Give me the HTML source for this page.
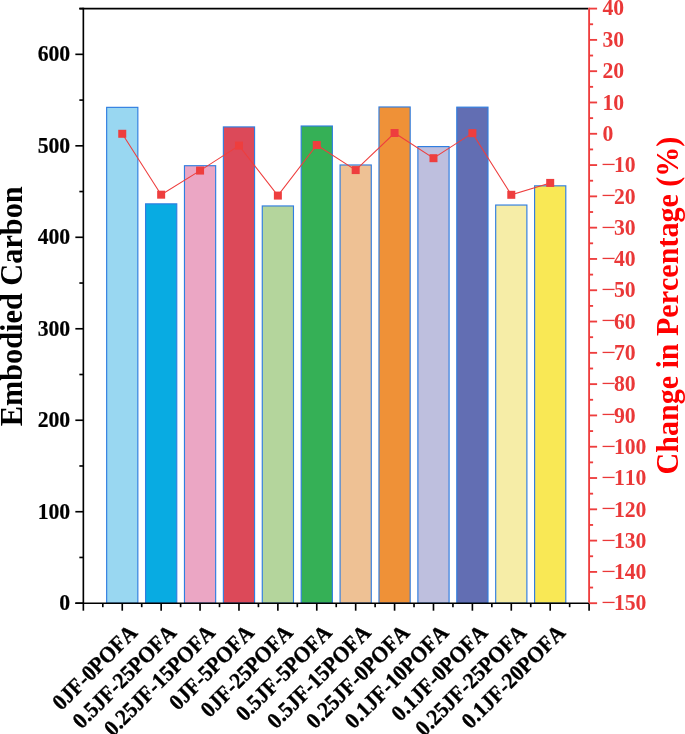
<!DOCTYPE html>
<html><head><meta charset="utf-8"><title>Embodied Carbon</title>
<style>html,body{margin:0;padding:0;background:#fff}svg{display:block}text{font-family:"Liberation Serif","Times New Roman",serif;font-weight:bold;font-kerning:none}</style></head><body>
<svg width="685" height="734" viewBox="0 0 685 734">
<rect width="685" height="734" fill="#fff"/>
<rect x="106.65" y="107.35" width="31.20" height="495.85" fill="#99D7F1" stroke="#2F7DE0" stroke-width="1.15"/>
<rect x="145.56" y="203.85" width="31.20" height="399.35" fill="#08ABE2" stroke="#2F7DE0" stroke-width="1.15"/>
<rect x="184.46" y="165.71" width="31.20" height="437.49" fill="#EBA6C4" stroke="#2F7DE0" stroke-width="1.15"/>
<rect x="223.37" y="126.92" width="31.20" height="476.28" fill="#DC4959" stroke="#2F7DE0" stroke-width="1.15"/>
<rect x="262.27" y="205.96" width="31.20" height="397.24" fill="#B4D59C" stroke="#2F7DE0" stroke-width="1.15"/>
<rect x="301.17" y="126.01" width="31.20" height="477.19" fill="#35B056" stroke="#2F7DE0" stroke-width="1.15"/>
<rect x="340.08" y="164.98" width="31.20" height="438.22" fill="#EEC194" stroke="#2F7DE0" stroke-width="1.15"/>
<rect x="378.98" y="106.98" width="31.20" height="496.22" fill="#EF9137" stroke="#2F7DE0" stroke-width="1.15"/>
<rect x="417.88" y="146.59" width="31.20" height="456.61" fill="#BEBFDE" stroke="#2F7DE0" stroke-width="1.15"/>
<rect x="456.79" y="107.16" width="31.20" height="496.04" fill="#626EB3" stroke="#2F7DE0" stroke-width="1.15"/>
<rect x="495.69" y="205.04" width="31.20" height="398.16" fill="#F6EDA7" stroke="#2F7DE0" stroke-width="1.15"/>
<rect x="534.60" y="185.83" width="31.20" height="417.37" fill="#F9E855" stroke="#2F7DE0" stroke-width="1.15"/>
<polyline points="122.25,133.78 161.16,194.68 200.06,170.58 238.97,145.58 277.87,195.59 316.77,145.05 355.68,170.08 394.58,133.00 433.48,158.19 472.39,133.15 511.29,194.80 550.20,182.91" fill="none" stroke="#EE3E3E" stroke-width="1.05"/>
<rect x="118.25" y="129.78" width="8" height="8" fill="#EE3E3E"/>
<rect x="157.16" y="190.68" width="8" height="8" fill="#EE3E3E"/>
<rect x="196.06" y="166.58" width="8" height="8" fill="#EE3E3E"/>
<rect x="234.97" y="141.58" width="8" height="8" fill="#EE3E3E"/>
<rect x="273.87" y="191.59" width="8" height="8" fill="#EE3E3E"/>
<rect x="312.77" y="141.05" width="8" height="8" fill="#EE3E3E"/>
<rect x="351.68" y="166.08" width="8" height="8" fill="#EE3E3E"/>
<rect x="390.58" y="129.00" width="8" height="8" fill="#EE3E3E"/>
<rect x="429.48" y="154.19" width="8" height="8" fill="#EE3E3E"/>
<rect x="468.39" y="129.15" width="8" height="8" fill="#EE3E3E"/>
<rect x="507.29" y="190.80" width="8" height="8" fill="#EE3E3E"/>
<rect x="546.20" y="178.91" width="8" height="8" fill="#EE3E3E"/>
<g stroke="#000" stroke-width="1.65" fill="none">
<line x1="83.35" y1="7.85" x2="83.35" y2="603.95"/>
<line x1="79.35" y1="8.6" x2="588.35" y2="8.6"/>
<line x1="75.35" y1="603.2" x2="589.85" y2="603.2"/>
<line x1="75.35" y1="603.20" x2="83.35" y2="603.20"/>
<line x1="75.35" y1="511.72" x2="83.35" y2="511.72"/>
<line x1="75.35" y1="420.25" x2="83.35" y2="420.25"/>
<line x1="75.35" y1="328.77" x2="83.35" y2="328.77"/>
<line x1="75.35" y1="237.29" x2="83.35" y2="237.29"/>
<line x1="75.35" y1="145.82" x2="83.35" y2="145.82"/>
<line x1="75.35" y1="54.34" x2="83.35" y2="54.34"/>
<line x1="79.35" y1="557.46" x2="83.35" y2="557.46"/>
<line x1="79.35" y1="465.98" x2="83.35" y2="465.98"/>
<line x1="79.35" y1="374.51" x2="83.35" y2="374.51"/>
<line x1="79.35" y1="283.03" x2="83.35" y2="283.03"/>
<line x1="79.35" y1="191.55" x2="83.35" y2="191.55"/>
<line x1="79.35" y1="100.08" x2="83.35" y2="100.08"/>
<line x1="79.35" y1="8.60" x2="83.35" y2="8.60"/>
<line x1="83.35" y1="603.2" x2="83.35" y2="610.7"/>
<line x1="122.25" y1="603.2" x2="122.25" y2="610.7"/>
<line x1="161.16" y1="603.2" x2="161.16" y2="610.7"/>
<line x1="200.06" y1="603.2" x2="200.06" y2="610.7"/>
<line x1="238.97" y1="603.2" x2="238.97" y2="610.7"/>
<line x1="277.87" y1="603.2" x2="277.87" y2="610.7"/>
<line x1="316.77" y1="603.2" x2="316.77" y2="610.7"/>
<line x1="355.68" y1="603.2" x2="355.68" y2="610.7"/>
<line x1="394.58" y1="603.2" x2="394.58" y2="610.7"/>
<line x1="433.48" y1="603.2" x2="433.48" y2="610.7"/>
<line x1="472.39" y1="603.2" x2="472.39" y2="610.7"/>
<line x1="511.29" y1="603.2" x2="511.29" y2="610.7"/>
<line x1="550.20" y1="603.2" x2="550.20" y2="610.7"/>
<line x1="589.10" y1="603.2" x2="589.10" y2="610.7"/>
<line x1="102.80" y1="603.2" x2="102.80" y2="607.2"/>
<line x1="141.71" y1="603.2" x2="141.71" y2="607.2"/>
<line x1="180.61" y1="603.2" x2="180.61" y2="607.2"/>
<line x1="219.51" y1="603.2" x2="219.51" y2="607.2"/>
<line x1="258.42" y1="603.2" x2="258.42" y2="607.2"/>
<line x1="297.32" y1="603.2" x2="297.32" y2="607.2"/>
<line x1="336.23" y1="603.2" x2="336.23" y2="607.2"/>
<line x1="375.13" y1="603.2" x2="375.13" y2="607.2"/>
<line x1="414.03" y1="603.2" x2="414.03" y2="607.2"/>
<line x1="452.94" y1="603.2" x2="452.94" y2="607.2"/>
<line x1="491.84" y1="603.2" x2="491.84" y2="607.2"/>
<line x1="530.74" y1="603.2" x2="530.74" y2="607.2"/>
<line x1="569.65" y1="603.2" x2="569.65" y2="607.2"/>
</g>
<g stroke="#EE3E3E" stroke-width="1.85" fill="none">
<line x1="589.1" y1="7.85" x2="589.1" y2="602.45"/>
<line x1="589.1" y1="603.20" x2="597.1" y2="603.20"/>
<line x1="589.1" y1="571.91" x2="597.1" y2="571.91"/>
<line x1="589.1" y1="540.61" x2="597.1" y2="540.61"/>
<line x1="589.1" y1="509.32" x2="597.1" y2="509.32"/>
<line x1="589.1" y1="478.02" x2="597.1" y2="478.02"/>
<line x1="589.1" y1="446.73" x2="597.1" y2="446.73"/>
<line x1="589.1" y1="415.43" x2="597.1" y2="415.43"/>
<line x1="589.1" y1="384.14" x2="597.1" y2="384.14"/>
<line x1="589.1" y1="352.84" x2="597.1" y2="352.84"/>
<line x1="589.1" y1="321.55" x2="597.1" y2="321.55"/>
<line x1="589.1" y1="290.25" x2="597.1" y2="290.25"/>
<line x1="589.1" y1="258.96" x2="597.1" y2="258.96"/>
<line x1="589.1" y1="227.66" x2="597.1" y2="227.66"/>
<line x1="589.1" y1="196.37" x2="597.1" y2="196.37"/>
<line x1="589.1" y1="165.07" x2="597.1" y2="165.07"/>
<line x1="589.1" y1="133.78" x2="597.1" y2="133.78"/>
<line x1="589.1" y1="102.48" x2="597.1" y2="102.48"/>
<line x1="589.1" y1="71.19" x2="597.1" y2="71.19"/>
<line x1="589.1" y1="39.89" x2="597.1" y2="39.89"/>
<line x1="589.1" y1="8.60" x2="597.1" y2="8.60"/>
<line x1="589.1" y1="587.55" x2="593.1" y2="587.55"/>
<line x1="589.1" y1="556.26" x2="593.1" y2="556.26"/>
<line x1="589.1" y1="524.96" x2="593.1" y2="524.96"/>
<line x1="589.1" y1="493.67" x2="593.1" y2="493.67"/>
<line x1="589.1" y1="462.37" x2="593.1" y2="462.37"/>
<line x1="589.1" y1="431.08" x2="593.1" y2="431.08"/>
<line x1="589.1" y1="399.78" x2="593.1" y2="399.78"/>
<line x1="589.1" y1="368.49" x2="593.1" y2="368.49"/>
<line x1="589.1" y1="337.19" x2="593.1" y2="337.19"/>
<line x1="589.1" y1="305.90" x2="593.1" y2="305.90"/>
<line x1="589.1" y1="274.61" x2="593.1" y2="274.61"/>
<line x1="589.1" y1="243.31" x2="593.1" y2="243.31"/>
<line x1="589.1" y1="212.02" x2="593.1" y2="212.02"/>
<line x1="589.1" y1="180.72" x2="593.1" y2="180.72"/>
<line x1="589.1" y1="149.43" x2="593.1" y2="149.43"/>
<line x1="589.1" y1="118.13" x2="593.1" y2="118.13"/>
<line x1="589.1" y1="86.84" x2="593.1" y2="86.84"/>
<line x1="589.1" y1="55.54" x2="593.1" y2="55.54"/>
<line x1="589.1" y1="24.25" x2="593.1" y2="24.25"/>
</g>
<text transform="translate(70.20,610.30) scale(0.965,1)" font-size="22.5" fill="#000" stroke="#000" stroke-width="0.2" text-anchor="end">0</text>
<text transform="translate(70.20,518.82) scale(0.965,1)" font-size="22.5" fill="#000" stroke="#000" stroke-width="0.2" text-anchor="end">100</text>
<text transform="translate(70.20,427.35) scale(0.965,1)" font-size="22.5" fill="#000" stroke="#000" stroke-width="0.2" text-anchor="end">200</text>
<text transform="translate(70.20,335.87) scale(0.965,1)" font-size="22.5" fill="#000" stroke="#000" stroke-width="0.2" text-anchor="end">300</text>
<text transform="translate(70.20,244.39) scale(0.965,1)" font-size="22.5" fill="#000" stroke="#000" stroke-width="0.2" text-anchor="end">400</text>
<text transform="translate(70.20,152.92) scale(0.965,1)" font-size="22.5" fill="#000" stroke="#000" stroke-width="0.2" text-anchor="end">500</text>
<text transform="translate(70.20,61.44) scale(0.965,1)" font-size="22.5" fill="#000" stroke="#000" stroke-width="0.2" text-anchor="end">600</text>
<text transform="translate(602.50,15.20) scale(0.965,1)" font-size="22.5" fill="#EA3838" text-anchor="start">40</text>
<text transform="translate(602.50,47.09) scale(0.965,1)" font-size="22.5" fill="#EA3838" text-anchor="start">30</text>
<text transform="translate(602.50,78.39) scale(0.965,1)" font-size="22.5" fill="#EA3838" text-anchor="start">20</text>
<text transform="translate(602.50,109.68) scale(0.965,1)" font-size="22.5" fill="#EA3838" text-anchor="start">10</text>
<text transform="translate(602.50,140.98) scale(0.965,1)" font-size="22.5" fill="#EA3838" text-anchor="start">0</text>
<text x="601.4" y="172.97" font-size="25.8" fill="#EA3838" style="font-weight:normal">−</text>
<text transform="translate(613.90,172.27) scale(0.965,1)" font-size="22.5" fill="#EA3838" text-anchor="start">10</text>
<text x="601.4" y="204.27" font-size="25.8" fill="#EA3838" style="font-weight:normal">−</text>
<text transform="translate(613.90,203.57) scale(0.965,1)" font-size="22.5" fill="#EA3838" text-anchor="start">20</text>
<text x="601.4" y="235.56" font-size="25.8" fill="#EA3838" style="font-weight:normal">−</text>
<text transform="translate(613.90,234.86) scale(0.965,1)" font-size="22.5" fill="#EA3838" text-anchor="start">30</text>
<text x="601.4" y="266.86" font-size="25.8" fill="#EA3838" style="font-weight:normal">−</text>
<text transform="translate(613.90,266.16) scale(0.965,1)" font-size="22.5" fill="#EA3838" text-anchor="start">40</text>
<text x="601.4" y="298.15" font-size="25.8" fill="#EA3838" style="font-weight:normal">−</text>
<text transform="translate(613.90,297.45) scale(0.965,1)" font-size="22.5" fill="#EA3838" text-anchor="start">50</text>
<text x="601.4" y="329.45" font-size="25.8" fill="#EA3838" style="font-weight:normal">−</text>
<text transform="translate(613.90,328.75) scale(0.965,1)" font-size="22.5" fill="#EA3838" text-anchor="start">60</text>
<text x="601.4" y="360.74" font-size="25.8" fill="#EA3838" style="font-weight:normal">−</text>
<text transform="translate(613.90,360.04) scale(0.965,1)" font-size="22.5" fill="#EA3838" text-anchor="start">70</text>
<text x="601.4" y="392.04" font-size="25.8" fill="#EA3838" style="font-weight:normal">−</text>
<text transform="translate(613.90,391.34) scale(0.965,1)" font-size="22.5" fill="#EA3838" text-anchor="start">80</text>
<text x="601.4" y="423.33" font-size="25.8" fill="#EA3838" style="font-weight:normal">−</text>
<text transform="translate(613.90,422.63) scale(0.965,1)" font-size="22.5" fill="#EA3838" text-anchor="start">90</text>
<text x="601.4" y="454.63" font-size="25.8" fill="#EA3838" style="font-weight:normal">−</text>
<text transform="translate(613.90,453.93) scale(0.965,1)" font-size="22.5" fill="#EA3838" text-anchor="start">100</text>
<text x="601.4" y="485.92" font-size="25.8" fill="#EA3838" style="font-weight:normal">−</text>
<text transform="translate(613.90,485.22) scale(0.965,1)" font-size="22.5" fill="#EA3838" text-anchor="start">110</text>
<text x="601.4" y="517.22" font-size="25.8" fill="#EA3838" style="font-weight:normal">−</text>
<text transform="translate(613.90,516.52) scale(0.965,1)" font-size="22.5" fill="#EA3838" text-anchor="start">120</text>
<text x="601.4" y="548.51" font-size="25.8" fill="#EA3838" style="font-weight:normal">−</text>
<text transform="translate(613.90,547.81) scale(0.965,1)" font-size="22.5" fill="#EA3838" text-anchor="start">130</text>
<text x="601.4" y="579.81" font-size="25.8" fill="#EA3838" style="font-weight:normal">−</text>
<text transform="translate(613.90,579.11) scale(0.965,1)" font-size="22.5" fill="#EA3838" text-anchor="start">140</text>
<text x="601.4" y="611.10" font-size="25.8" fill="#EA3838" style="font-weight:normal">−</text>
<text transform="translate(613.90,610.40) scale(0.965,1)" font-size="22.5" fill="#EA3838" text-anchor="start">150</text>
<text transform="translate(22.00,306.30) rotate(-90) scale(0.948,1)" font-size="32" fill="#000" text-anchor="middle">Embodied Carbon</text>
<text transform="translate(678.20,305.60) rotate(-90) scale(0.939,1)" font-size="32" fill="#FF0000" text-anchor="middle">Change in Percentage (%)</text>
<text transform="translate(138.55,633.90) rotate(-45) scale(0.94,1)" font-size="22.5" fill="#000" stroke="#000" stroke-width="0.35" text-anchor="end">0JF-0POFA</text>
<text transform="translate(177.46,633.90) rotate(-45) scale(0.94,1)" font-size="22.5" fill="#000" stroke="#000" stroke-width="0.35" text-anchor="end">0.5JF-25POFA</text>
<text transform="translate(216.36,633.90) rotate(-45) scale(0.94,1)" font-size="22.5" fill="#000" stroke="#000" stroke-width="0.35" text-anchor="end">0.25JF-15POFA</text>
<text transform="translate(255.27,633.90) rotate(-45) scale(0.94,1)" font-size="22.5" fill="#000" stroke="#000" stroke-width="0.35" text-anchor="end">0JF-5POFA</text>
<text transform="translate(294.17,633.90) rotate(-45) scale(0.94,1)" font-size="22.5" fill="#000" stroke="#000" stroke-width="0.35" text-anchor="end">0JF-25POFA</text>
<text transform="translate(333.07,633.90) rotate(-45) scale(0.94,1)" font-size="22.5" fill="#000" stroke="#000" stroke-width="0.35" text-anchor="end">0.5JF-5POFA</text>
<text transform="translate(371.98,633.90) rotate(-45) scale(0.94,1)" font-size="22.5" fill="#000" stroke="#000" stroke-width="0.35" text-anchor="end">0.5JF-15POFA</text>
<text transform="translate(410.88,633.90) rotate(-45) scale(0.94,1)" font-size="22.5" fill="#000" stroke="#000" stroke-width="0.35" text-anchor="end">0.25JF-0POFA</text>
<text transform="translate(449.78,633.90) rotate(-45) scale(0.94,1)" font-size="22.5" fill="#000" stroke="#000" stroke-width="0.35" text-anchor="end">0.1JF-10POFA</text>
<text transform="translate(488.69,633.90) rotate(-45) scale(0.94,1)" font-size="22.5" fill="#000" stroke="#000" stroke-width="0.35" text-anchor="end">0.1JF-0POFA</text>
<text transform="translate(527.59,633.90) rotate(-45) scale(0.94,1)" font-size="22.5" fill="#000" stroke="#000" stroke-width="0.35" text-anchor="end">0.25JF-25POFA</text>
<text transform="translate(566.50,633.90) rotate(-45) scale(0.94,1)" font-size="22.5" fill="#000" stroke="#000" stroke-width="0.35" text-anchor="end">0.1JF-20POFA</text>
</svg></body></html>
